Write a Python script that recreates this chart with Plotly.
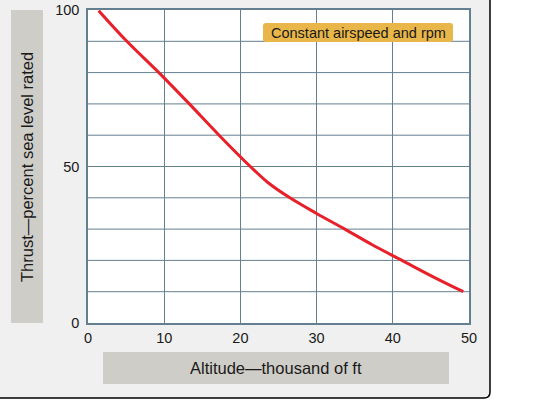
import plotly.graph_objects as go

# Thrust vs altitude
altitude = [1.4, 5.1, 9.3, 13.3, 17.2, 21.3, 23.6, 26.5, 30.0, 33.7, 37.3, 41.2, 45.1, 49.25]
thrust = [99.8, 90, 80, 70, 60, 50, 44.9, 40, 35, 30, 25, 20, 15, 10]

x_ticks = [0, 10, 20, 30, 40, 50]
y_ticks = [0, 50, 100]
y_grid = [10, 20, 30, 40, 50, 60, 70, 80, 90]

W, H = 545, 404
L, R, T, B = 88, 469, 10, 323  # plot area in pixels
PW, PH = R - L, B - T


def px(x):
    return (x - L) / PW


def py(y):
    return (B - y) / PH


grid = '#647f90'
font = 'Liberation Sans, Arial, sans-serif'

fig = go.Figure()

# horizontal gridlines every 10 (only 0/50/100 are labelled)
gx, gy = [], []
for v in y_grid:
    gx += [0, 50, None]
    gy += [v, v, None]
fig.add_trace(go.Scatter(x=gx, y=gy, mode='lines', line=dict(color=grid, width=1),
                         hoverinfo='skip', showlegend=False))

fig.add_trace(go.Scatter(
    x=altitude, y=thrust, mode='lines',
    line=dict(color='#e8202a', width=3, shape='spline', smoothing=1.0),
    hoverinfo='skip', showlegend=False))

# panel with rounded bottom-right corner
r = 6
pr, pb, pl, pt = 490, 398, -10, -10
panel = (f"M {px(pl)} {py(pt)} L {px(pr)} {py(pt)} L {px(pr)} {py(pb - r)} "
         f"Q {px(pr)} {py(pb)} {px(pr - r)} {py(pb)} L {px(pl)} {py(pb)} Z")

shapes = [
    dict(type='path', path=panel, xref='paper', yref='paper', layer='below',
         fillcolor='#eff0ef', line=dict(color='black', width=1.5)),
    dict(type='rect', xref='paper', yref='paper', x0=0, x1=1, y0=0, y1=1,
         layer='below', fillcolor='white', line=dict(width=0)),
    # axis title boxes
    dict(type='rect', xref='paper', yref='paper', x0=px(11), x1=px(43), y0=py(323), y1=py(10),
         layer='below', fillcolor='#cfcdc8', line=dict(width=0)),
    dict(type='rect', xref='paper', yref='paper', x0=px(103), x1=px(449), y0=py(384), y1=py(352),
         layer='below', fillcolor='#cfcdc8', line=dict(width=0)),
]

# orange label box, slightly rounded
bx0, bx1, by0, by1, br = 263, 453, 23, 42, 3
label_box = (f"M {px(bx0 + br)} {py(by0)} L {px(bx1 - br)} {py(by0)} "
             f"Q {px(bx1)} {py(by0)} {px(bx1)} {py(by0 + br)} L {px(bx1)} {py(by1 - br)} "
             f"Q {px(bx1)} {py(by1)} {px(bx1 - br)} {py(by1)} L {px(bx0 + br)} {py(by1)} "
             f"Q {px(bx0)} {py(by1)} {px(bx0)} {py(by1 - br)} L {px(bx0)} {py(by0 + br)} "
             f"Q {px(bx0)} {py(by0)} {px(bx0 + br)} {py(by0)} Z")
shapes.append(dict(type='path', path=label_box, xref='paper', yref='paper', layer='above',
                   fillcolor='#e9b649', line=dict(width=0)))

annotations = [
    dict(text='Constant airspeed and rpm', xref='paper', yref='paper',
         x=px((bx0 + bx1) / 2), y=py((by0 + by1) / 2), xanchor='center', yanchor='middle',
         showarrow=False, font=dict(family=font, size=14.5, color='#1a1a1a')),
    dict(text='Thrust—percent sea level rated', xref='paper', yref='paper',
         x=px(27), y=py(167), xanchor='center', yanchor='middle', textangle=-90,
         showarrow=False, font=dict(family=font, size=16.5, color='#1a1a1a')),
    dict(text='Altitude—thousand of ft', xref='paper', yref='paper',
         x=px(276), y=py(368), xanchor='center', yanchor='middle',
         showarrow=False, font=dict(family=font, size=16.5, color='#1a1a1a')),
]

fig.update_layout(
    width=W, height=H,
    margin=dict(l=L, r=W - R, t=T, b=H - B, pad=0),
    paper_bgcolor='white', plot_bgcolor='rgba(0,0,0,0)',
    shapes=shapes, annotations=annotations,
    font=dict(family=font, size=14.5, color='#1a1a1a'),
    xaxis=dict(range=[0, 50], tickvals=x_ticks, showgrid=True,
               gridcolor=grid, gridwidth=1, zeroline=False, automargin=False,
               showline=True, linecolor=grid, linewidth=1.5, mirror=True,
               ticks='', ticklabelstandoff=1, fixedrange=True),
    yaxis=dict(range=[0, 100], tickvals=y_ticks, showgrid=False, automargin=False,
               zeroline=False, showline=True, linecolor=grid, linewidth=1.5,
               mirror=True, ticks='', ticklabelstandoff=4, fixedrange=True),
)

fig.write_html("out.html", config={'displayModeBar': False},
               post_script="document.body.style.margin='0';")
